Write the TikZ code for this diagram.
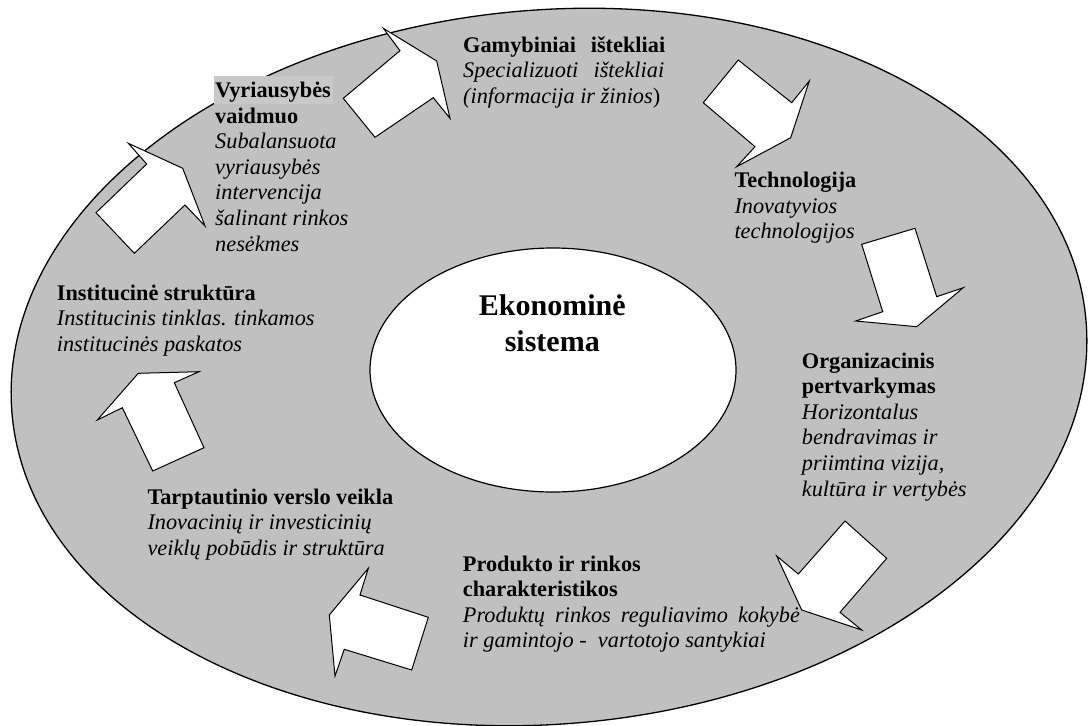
\documentclass[tikz,border=0pt]{standalone}
\usepackage{fontspec}
\setmainfont{Liberation Serif}
% one line of a text block
\newcommand\blline[1]{\hbox{\bfseries #1}}
\newcommand\itline[1]{\hbox{\itshape #1}}
\begin{document}
\begin{tikzpicture}[x=1pt,y=-1pt,
  ring/.style={fill={rgb,255:red,192;green,192;blue,192}, draw=black, line width=1.3pt},
  core/.style={fill=white, draw=black, line width=1.2pt},
  blockarrow/.style={fill=white, draw=black, line width=1pt, line join=miter},
  txt/.style={anchor=base west, inner sep=0pt, font=\fontsize{22.3}{25.6}\selectfont},
  mark box/.style={fill={rgb,255:red,200;green,200;blue,200}},
]
\useasboundingbox (0,0) rectangle (1088,726);
\fill[white] (0,0) rectangle (1088,726);

% outer ring and the central system
\draw[ring, rotate around={5:(549,367)}] (549,367) ellipse [x radius=539, y radius=357];
\draw[core] (553,370) ellipse [x radius=183, y radius=122];

% block arrows, clockwise
\draw[blockarrow] (383.3,28.3) -- (400,50.7) -- (343.3,98.3) -- (375,137.3) -- (433.3,97.7) -- (450,118.3) -- (436.7,61) -- cycle;
\draw[blockarrow] (738.3,60) -- (791.7,102.7) -- (809.3,81) -- (790.7,137.7) -- (736.7,166.7) -- (755,146.7) -- (703.3,102.7) -- cycle;
\draw[blockarrow] (861.7,244.3) -- (915,228.3) -- (936.7,296.7) -- (963.3,287.7) -- (916.7,326.7) -- (855.7,321) -- (882.7,311.7) -- cycle;
\draw[blockarrow] (845,521) -- (886.7,558.3) -- (840,612.3) -- (861.7,630) -- (801.7,610) -- (776.7,556) -- (798.3,574) -- cycle;
\draw[blockarrow] (368.3,568.3) -- (360,595) -- (428.3,617.3) -- (411.7,670) -- (344.3,649.3) -- (335,676) -- (329.3,615) -- cycle;
\draw[blockarrow] (138.3,373.3) -- (199,371.7) -- (174.3,382.7) -- (204,447.7) -- (152.7,471) -- (122.3,407.7) -- (97.3,420) -- cycle;
\draw[blockarrow] (128.3,143.3) -- (182.7,168.3) -- (205,226) -- (185,205) -- (134.3,253.3) -- (96,212.7) -- (146.7,164) -- cycle;

% highlighted heading word
\fill[mark box] (213.5,76) rectangle (333,104);

% factor descriptions
\node[txt] (gov) at (215,97.5) {\vtop{\blline{Vyriausybės}\blline{vaidmuo}\itline{Subalansuota}\itline{vyriausybės}\itline{intervencija}\itline{šalinant rinkos}\itline{nesėkmes}}};
\node[txt] (res) at (463,52) {\vtop{\hbox to 202pt{\bfseries Gamybiniai ištekliai}\hbox to 201pt{\itshape Specializuoti ištekliai}\hbox{\itshape (informacija ir žinios\/\upshape)}}};
\node[txt] (tech) at (734.3,187.5) {\vtop{\blline{Technologija}\itline{Inovatyvios}\itline{technologijos}}};
\node[txt] (org) at (801.7,368) {\vtop{\blline{Organizacinis}\blline{pertvarkymas}\itline{Horizontalus}\itline{bendravimas ir}\itline{priimtina vizija,}\itline{kultūra ir vertybės}}};
\node[txt] (prod) at (462.7,571) {\vtop{\blline{Produkto ir rinkos}\blline{charakteristikos}\hbox to 337pt{\itshape Produktų rinkos reguliavimo kokybė}\itline{ir gamintojo -\ \ vartotojo santykiai}}};
\node[txt] (intl) at (147.3,504.3) {\vtop{\blline{Tarptautinio verslo veikla}\itline{Inovacinių ir investicinių}\itline{veiklų pobūdis ir struktūra}}};
\node[txt] (inst) at (56.7,300) {\vtop{\blline{Institucinė struktūra}\itline{Institucinis tinklas. tinkamos}\itline{institucinės paskatos}}};

% centre title
\node[anchor=base, inner sep=0pt, font=\fontsize{30}{36.5}\selectfont\bfseries] (econ) at (552.3,315) {\vtop{\halign{\hfil#\hfil\cr Ekonominė\cr sistema\cr}}};
\end{tikzpicture}
\end{document}
